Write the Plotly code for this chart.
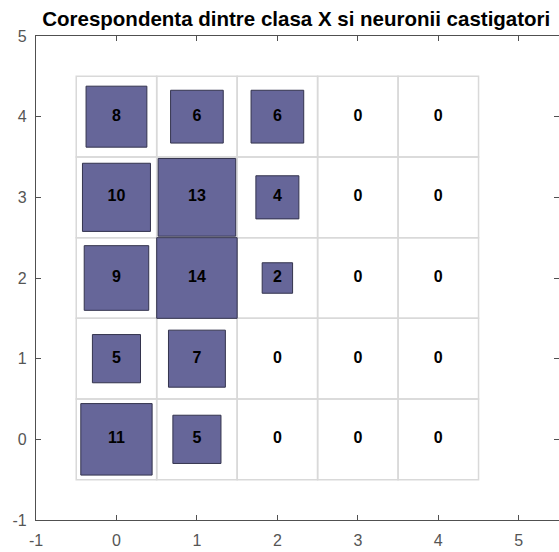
import numpy as np
import plotly.graph_objects as go

# Hit counts: rows are class index (y), columns are winning neuron index (x)
cols = [0, 1, 2, 3, 4]
rows = [0, 1, 2, 3, 4]
hits_row0 = [11, 5, 0, 0, 0]
hits_row1 = [5, 7, 0, 0, 0]
hits_row2 = [9, 14, 2, 0, 0]
hits_row3 = [10, 13, 4, 0, 0]
hits_row4 = [8, 6, 6, 0, 0]
hits = [hits_row0, hits_row1, hits_row2, hits_row3, hits_row4]

x_ticks = [-1, 0, 1, 2, 3, 4, 5]
y_ticks = [-1, 0, 1, 2, 3, 4, 5]

title_text = "Corespondenta dintre clasa X si neuronii castigatori"

FILL = "#666699"
EDGE = "#33334d"
GRID = "#d9d9d9"
AXIS = "#505050"

max_hit = max(max(r) for r in hits)

fig = go.Figure()

# Cell outlines
shapes = []
for r in rows:
    for c in cols:
        shapes.append(dict(type="rect", xref="x", yref="y",
                           x0=c - 0.5, x1=c + 0.5, y0=r - 0.5, y1=r + 0.5,
                           line=dict(color=GRID, width=1.5), layer="below"))

# Squares with area proportional to the hit count
for r in rows:
    for c in cols:
        n = hits[r][c]
        if n <= 0:
            continue
        h = np.sqrt(n / max_hit) / 2
        fig.add_trace(go.Scatter(
            x=[c - h, c + h, c + h, c - h, c - h],
            y=[r - h, r - h, r + h, r + h, r - h],
            mode="lines", fill="toself", fillcolor=FILL,
            line=dict(color=EDGE, width=1), hoverinfo="skip", showlegend=False))

# Count labels
tx, ty, tt = [], [], []
for r in rows:
    for c in cols:
        tx.append(c)
        ty.append(r)
        tt.append(str(hits[r][c]))
fig.add_trace(go.Scatter(
    x=tx, y=ty, text=tt, mode="text",
    textfont=dict(family="Liberation Sans", size=16, color="#000000", weight="bold"),
    hoverinfo="skip", showlegend=False))

# Invisible trace to anchor the right-hand tick axis
fig.add_trace(go.Scatter(x=[0], y=[0], yaxis="y2", mode="markers",
                         marker=dict(opacity=0), hoverinfo="skip", showlegend=False))

tickfont = dict(family="Liberation Sans", size=16, color="#555555")

fig.update_layout(
    width=559, height=552,
    margin=dict(l=36, r=0, t=36, b=32),
    paper_bgcolor="white", plot_bgcolor="white",
    shapes=shapes,
    title=dict(text=title_text, xref="container", yref="container",
               x=0.53, y=1 - 19 / 552, xanchor="center", yanchor="middle",
               font=dict(family="Liberation Sans", size=20.5, color="#000000", weight="bold")),
    xaxis=dict(range=[-1, 5.5], tickvals=x_ticks, ticktext=[str(v) for v in x_ticks],
               ticks="inside", ticklen=5, tickcolor=AXIS, showline=True, linecolor=AXIS,
               linewidth=1.2, mirror="ticks", showgrid=False, zeroline=False,
               tickfont=tickfont, ticklabelstandoff=6),
    yaxis=dict(range=[-1, 5], tickvals=y_ticks, ticktext=[str(v) for v in y_ticks],
               ticks="inside", ticklen=5, tickcolor=AXIS, showline=True, linecolor=AXIS,
               linewidth=1.2, showgrid=False, zeroline=False,
               tickfont=tickfont, ticklabelstandoff=5),
    yaxis2=dict(range=[-1, 5], tickvals=y_ticks, overlaying="y", side="right",
                ticks="inside", ticklen=5, tickcolor=AXIS, showticklabels=False,
                showline=False, showgrid=False, zeroline=False),
)

fig.write_html("out.html")
